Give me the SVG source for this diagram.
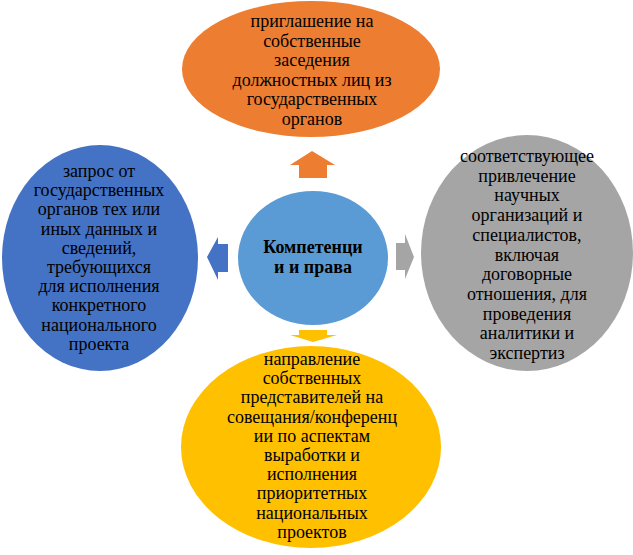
<svg xmlns="http://www.w3.org/2000/svg" width="633" height="555" viewBox="0 0 633 555">
<style>
text{font-family:"Liberation Serif","Times New Roman",serif;font-size:18px;fill:#000;text-anchor:middle}
.b{font-weight:bold}
</style>
<rect width="633" height="555" fill="#fff"/>
<g id="connectors">
<polygon points="312,151 335,165 327,165 327,178 299,178 299,165 290,165" fill="#ED7D31"/>
<polygon points="207,257 218,237 218,244 228,244 228,272 218,272 218,280" fill="#4472C4"/>
<polygon points="414,257 405,234 405,243 396,243 396,270 405,270 405,279" fill="#A5A5A5"/>
<polygon points="313,342 337,335 327,335 327,330 299,330 299,335 290,335" fill="#FFC000"/>
</g>
<g id="top">
<ellipse cx="311" cy="69" rx="129" ry="68" fill="#ED7D31"/>
<text x="312" y="27">приглашение на</text>
<text x="312" y="46.6">собственные</text>
<text x="312" y="66.2">заседения</text>
<text x="312" y="85.8">должностных лиц из</text>
<text x="312" y="105.4">государственных</text>
<text x="312" y="125">органов</text>
</g>
<g id="center">
<ellipse cx="313" cy="258" rx="75" ry="67" fill="#5B9BD5"/>
<text class="b" x="313" y="253">Компетенци</text>
<text class="b" x="313" y="273">и и права</text>
</g>
<g id="left">
<ellipse cx="100" cy="258" rx="98" ry="113" fill="#4472C4"/>
<text x="99" y="177">запрос от</text>
<text x="99" y="196.2">государственных</text>
<text x="99" y="215.4">органов тех или</text>
<text x="99" y="234.6">иных данных и</text>
<text x="99" y="253.8">сведений,</text>
<text x="99" y="273">требующихся</text>
<text x="99" y="292.2">для исполнения</text>
<text x="99" y="311.4">конкретного</text>
<text x="99" y="330.6">национального</text>
<text x="99" y="350">проекта</text>
</g>
<g id="right">
<ellipse cx="527" cy="253" rx="106" ry="118" fill="#A5A5A5"/>
<text x="527" y="162">соответствующее</text>
<text x="527" y="181.7">привлечение</text>
<text x="527" y="201.4">научных</text>
<text x="527" y="221.1">организаций и</text>
<text x="527" y="240.8">специалистов,</text>
<text x="527" y="260.5">включая</text>
<text x="527" y="280.2">договорные</text>
<text x="527" y="299.9">отношения, для</text>
<text x="527" y="319.6">проведения</text>
<text x="527" y="339.3">аналитики и</text>
<text x="527" y="359">экспертиз</text>
</g>
<g id="bottom">
<ellipse cx="311" cy="447" rx="130" ry="101" fill="#FFC000"/>
<text x="312" y="365">направление</text>
<text x="312" y="384.2">собственных</text>
<text x="312" y="403.4">представителей на</text>
<text x="312" y="422.6">совещания/конференц</text>
<text x="312" y="441.8">ии по аспектам</text>
<text x="312" y="461">выработки и</text>
<text x="312" y="480.2">исполнения</text>
<text x="312" y="499.4">приоритетных</text>
<text x="312" y="518.6">национальных</text>
<text x="312" y="538">проектов</text>
</g>
</svg>
